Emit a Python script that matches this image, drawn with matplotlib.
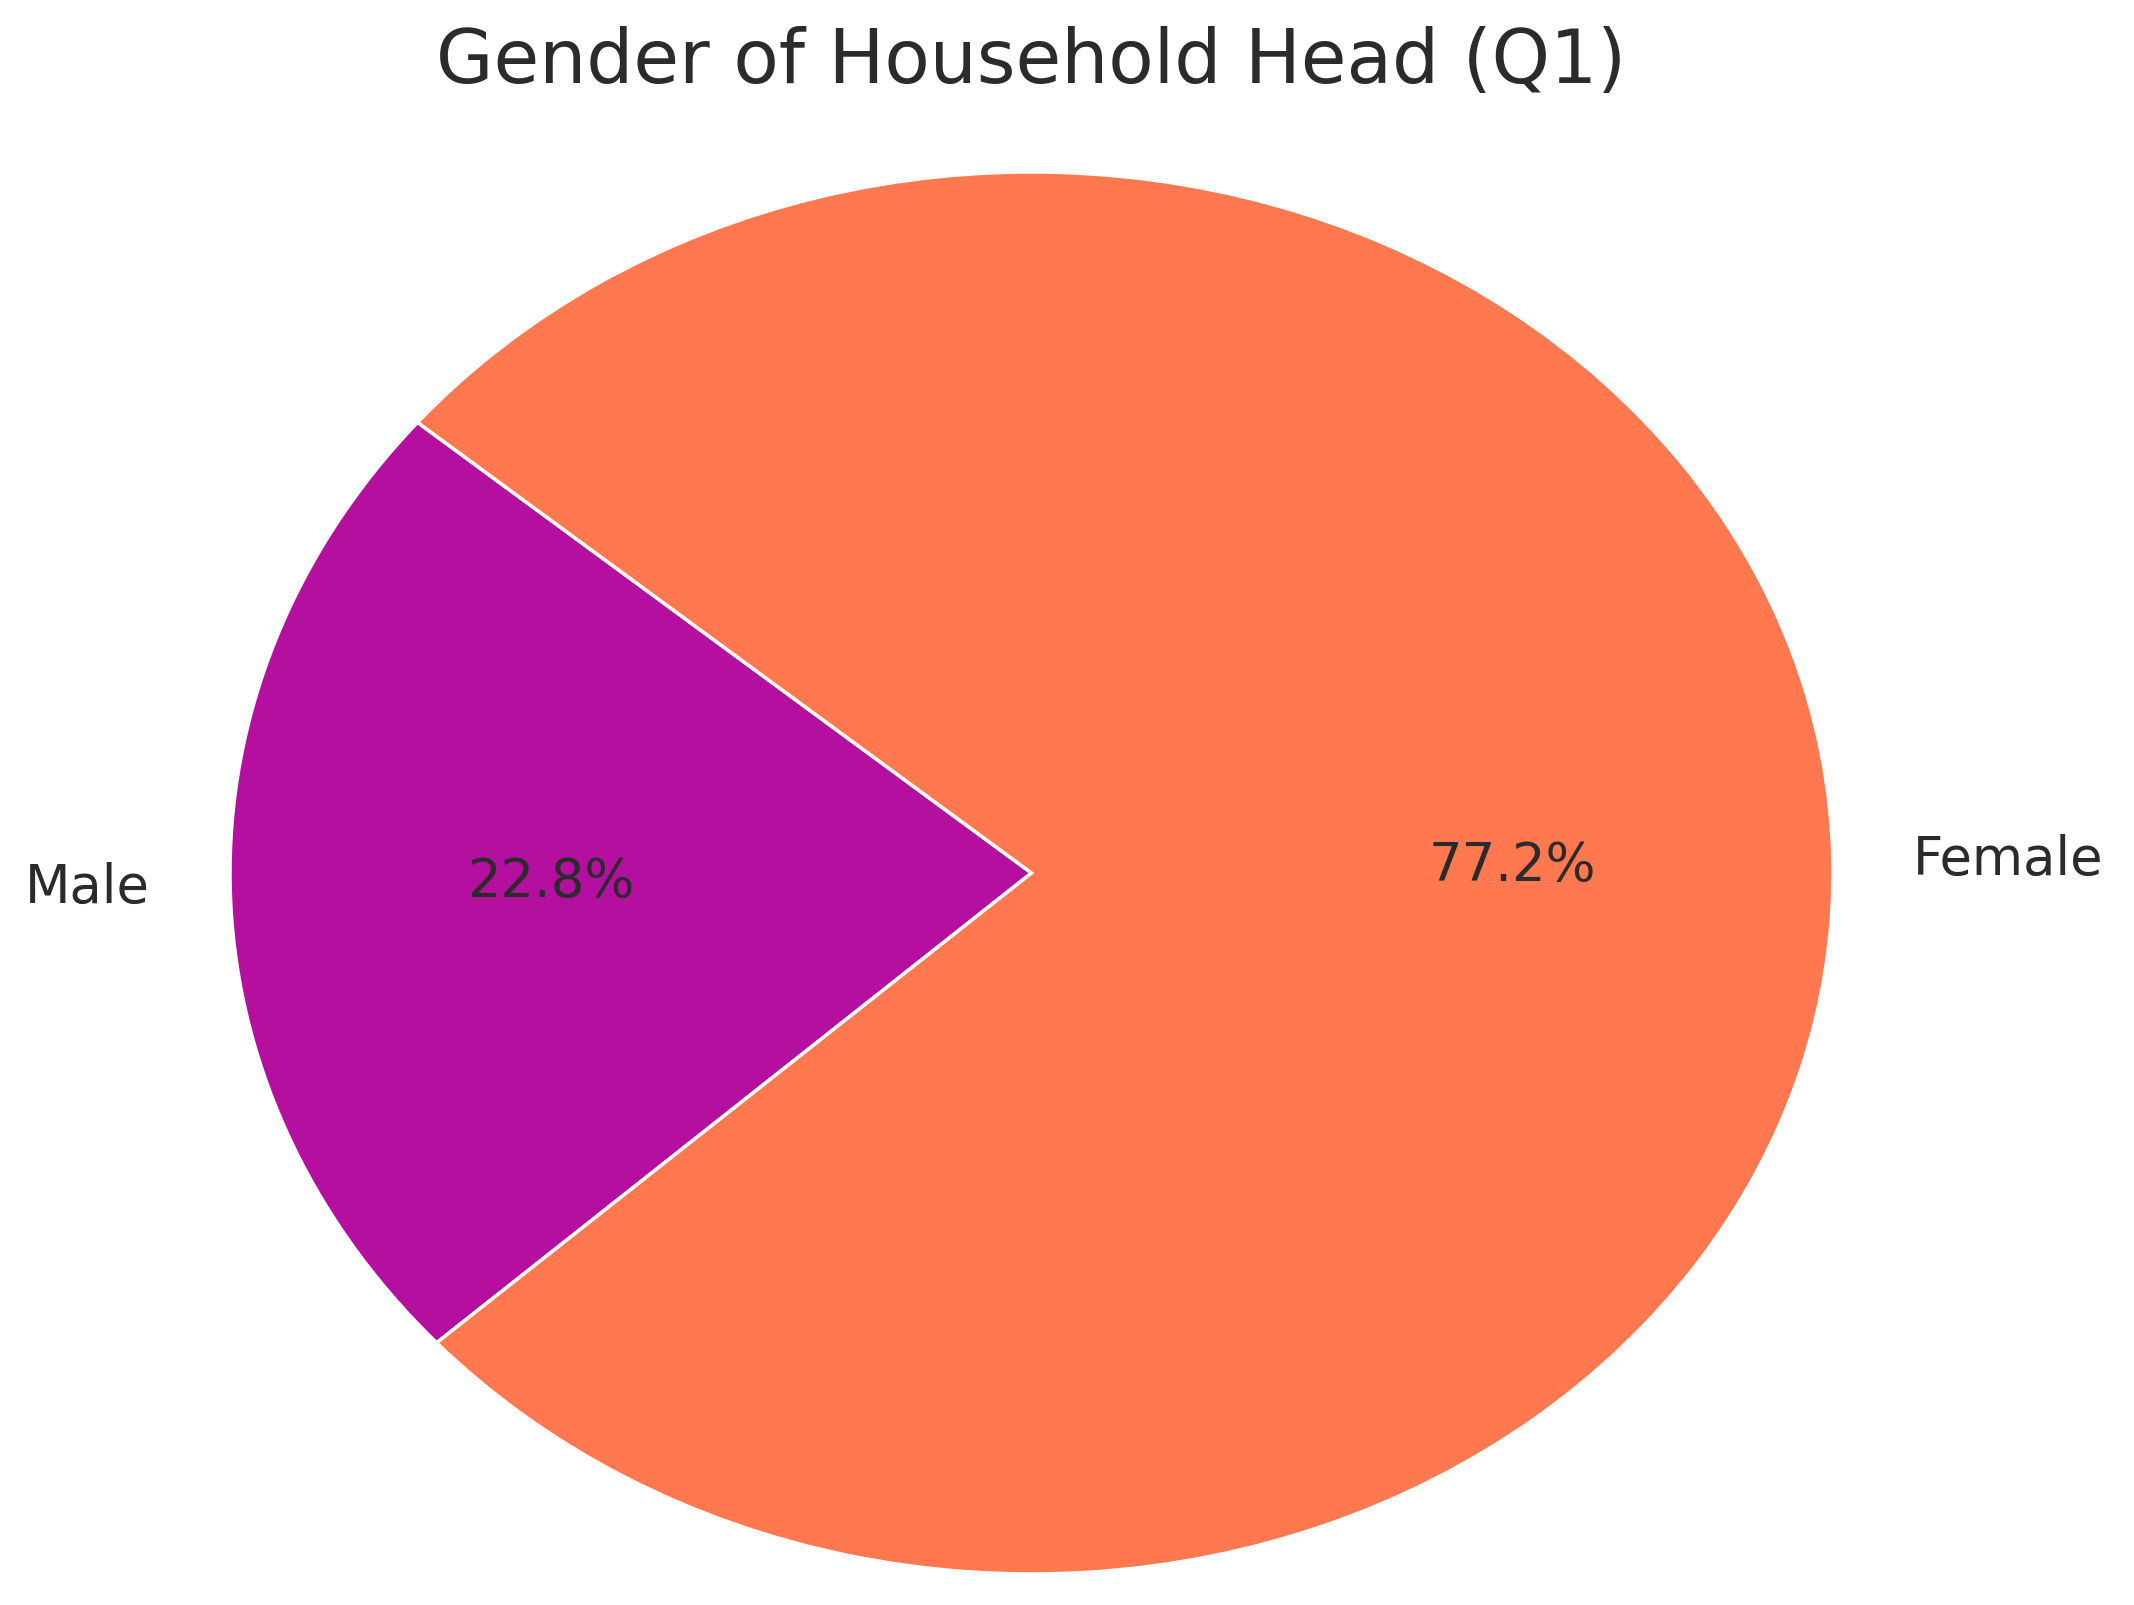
import matplotlib
matplotlib.use("Agg")
import matplotlib.pyplot as plt

labels = ["Male", "Female"]
shares = [22.8, 77.2]
colors = ["#B40F9F", "#FF784F"]
title = "Gender of Household Head (Q1)"

W, H = 2134, 1606
fig = plt.figure(figsize=(W / 100, H / 100), dpi=100)
fig.patch.set_facecolor("white")

ax = fig.add_axes([230 / W, (H - 1575) / H, 1603 / W, 1402 / H])
wedges, texts, autotexts = ax.pie(
    shares,
    labels=labels,
    colors=colors,
    autopct="%1.1f%%",
    startangle=140,
    labeldistance=1.1,
    pctdistance=0.6,
    wedgeprops=dict(edgecolor="white", linewidth=2.5),
    textprops=dict(fontsize=38, color="#2b2b2b"),
    frame=False,
)
ax.set_aspect("auto")
ax.set_xlim(-1, 1)
ax.set_ylim(-1, 1)
ax.axis("off")

fig.text(1031 / W, 1 - 83 / H, title, ha="center", va="baseline",
         fontsize=53.5, color="#2b2b2b")

fig.savefig("out.png", dpi=100, facecolor="white")
